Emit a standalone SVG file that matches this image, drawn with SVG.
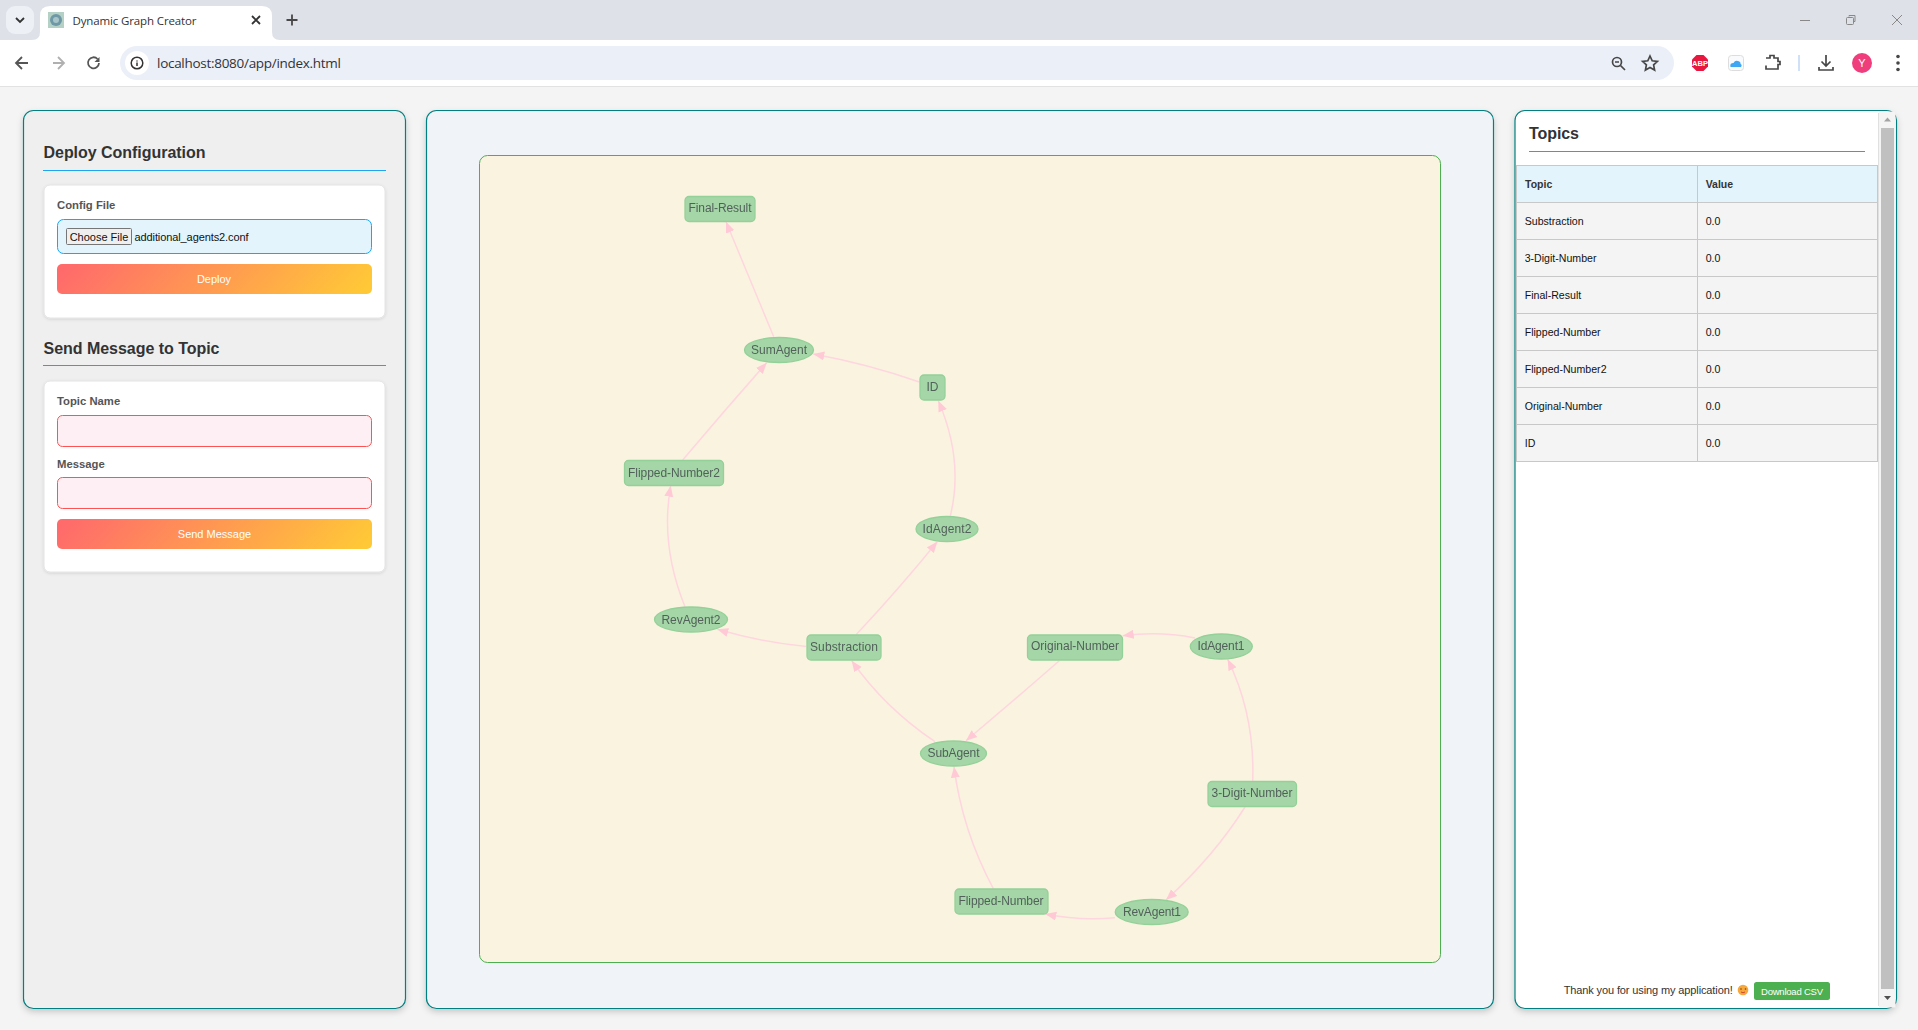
<svg xmlns="http://www.w3.org/2000/svg" width="1918" height="1030" viewBox="0 0 1918 1030">
<style>
text{font-family:"Liberation Sans",Arial,sans-serif}
.chrome{font-family:"Open Sans","Noto Sans",sans-serif}
.panel{stroke:#008080;stroke-width:1.2;filter:url(#sh)}
.h{font-size:16px;font-weight:bold;fill:#333}
.rule{stroke:#1ea5ef;stroke-width:1.1}
.card{fill:#fff;stroke:#e4e4e4;stroke-width:1;filter:url(#shc)}
.lab{font-size:11.3px;font-weight:bold;fill:#555}
.inp{fill:#fdeff4;stroke:#ff5252;stroke-width:1}
.btn{fill:url(#grad)}
.bt{font-size:11px;fill:#fff;text-anchor:middle}
.cell{fill:#f4f4f4;stroke:#c8c8c8;stroke-width:1}
.hc{fill:#e3f4fd;stroke:#c8c8c8;stroke-width:1}
.th{font-size:10.5px;font-weight:bold;fill:#333}
.td{font-size:10.6px;fill:#111}
.ns{fill:#a5d6a7;stroke:#94d198;stroke-width:1.3}
.nt{font-size:12px;fill:#52615a;text-anchor:middle}
.e{fill:none;stroke:#ffd6df;stroke-width:1.5;marker-end:url(#arr)}
.ic{fill:none;stroke:#474747;stroke-width:1.7}
</style>
<defs>
<linearGradient id="grad" x1="0" y1="0.5" x2="1" y2="0.5" gradientUnits="objectBoundingBox" gradientTransform="rotate(5 .5 .5)"><stop offset="0" stop-color="#ff6b6b"/><stop offset="1" stop-color="#ffc837"/></linearGradient>
<filter id="sh" x="-5%" y="-5%" width="110%" height="110%"><feDropShadow dx="0" dy="3" stdDeviation="3" flood-color="#000" flood-opacity="0.18"/></filter>
<filter id="shc" x="-5%" y="-5%" width="110%" height="110%"><feDropShadow dx="0" dy="1" stdDeviation="1.5" flood-color="#000" flood-opacity="0.12"/></filter>
<filter id="soft" x="-2%" y="-2%" width="104%" height="104%"><feGaussianBlur stdDeviation="0.35"/></filter>
<marker id="arr" markerUnits="userSpaceOnUse" markerWidth="12" markerHeight="10" refX="11" refY="5" orient="auto"><path d="M0 0.5L11 5L0 9.5Z" fill="#ffcad6"/></marker>
</defs>
<rect width="1918" height="1030" fill="#f4f4f4"/>

<g id="browser-chrome">
<rect width="1918" height="40" fill="#dee1e8"/>
<rect x="0" y="40" width="1918" height="46" fill="#fff"/>
<line x1="0" y1="86.500" x2="1918" y2="86.500" stroke="#e2e2e2"/>
<rect x="6" y="6" width="28" height="28" rx="9" fill="#edf0f5"/>
<path d="M16 18l4 4l4-4" fill="none" stroke="#333" stroke-width="1.8"/>
<path d="M32 40Q40 40 40 32V16Q40 6 50 6H262Q272 6 272 16V32Q272 40 280 40Z" fill="#fff"/>
<rect x="48" y="12" width="16" height="16" fill="#b5d0c4"/><circle cx="56" cy="20" r="6" fill="#6f98a6"/><circle cx="56" cy="20" r="3" fill="#a8c4c8"/>
<text class="chrome" x="72.500" y="24.500" font-size="11.500" fill="#333" textLength="124">Dynamic Graph Creator</text>
<path d="M252 16l8 8M260 16l-8 8" stroke="#333" stroke-width="1.8"/>
<path d="M292 14.500v11M286.500 20h11" stroke="#474747" stroke-width="1.8"/>
<path d="M1800 20.500h10" stroke="#888" stroke-width="1"/>
<rect x="1846.500" y="17.500" width="7" height="7" rx="1" fill="none" stroke="#888"/><path d="M1849 16.500V15.500h6v6h-1" fill="none" stroke="#888"/>
<path d="M1892 15l10 10M1902 15l-10 10" stroke="#888" stroke-width="1"/>
<path d="M28 63H17M22 57l-6 6l6 6" fill="none" stroke="#555" stroke-width="1.8"/>
<path d="M64 63H53M58 57l6 6l-6 6" fill="none" stroke="#b0b0b0" stroke-width="1.800"/>
<path d="M99 63a5.500 5.500 0 1 1-1.500-4" fill="none" stroke="#555" stroke-width="1.800"/><path d="M99.500 57v5h-5z" fill="#555"/>
<rect x="120" y="46" width="1554" height="34" rx="17" fill="#ebeff8"/>
<circle cx="137" cy="63" r="12" fill="#fff"/><circle cx="137" cy="63" r="5.800" fill="none" stroke="#333" stroke-width="1.500"/><path d="M137 60.500v1M137 62.500v3.500" stroke="#333" stroke-width="1.500"/>
<text class="chrome" x="157" y="68" font-size="13.500" fill="#333" textLength="184">localhost:8080/app/index.html</text>
<circle cx="1617" cy="62" r="4.500" class="ic"/><path d="M1620.500 65.500l4.500 4.500M1615 62h4" class="ic"/>
<path d="M1650 56l2.200 4.800l5.200.600l-3.800 3.500l1 5.100l-4.600-2.600l-4.600 2.600l1-5.100l-3.800-3.500l5.200-.600z" class="ic"/>
<path d="M1696.500 55h7l4.500 4.500v7l-4.500 4.500h-7l-4.500-4.500v-7z" fill="#e8173f"/>
<text x="1700" y="66" font-size="7.500" font-weight="bold" fill="#fff" text-anchor="middle">ABP</text>
<rect x="1728.500" y="55.500" width="15" height="15" rx="3" fill="#f8fafc" stroke="#ddd"/><path d="M1730.500 67q-1-4 3-4q1.500-3 4.500-2q3 1 2.500 3q2 1 .5 3z" fill="#3ea6f2"/>
<path d="M1766 58h4v-2.500h4v2.500h4v3.500h2v3h-2v4.500h-12v-3.500" class="ic"/>
<line x1="1799" y1="55" x2="1799" y2="71" stroke="#d0e0f8" stroke-width="2"/>
<path d="M1826 55v11M1821.500 61.500l4.500 4.500l4.500-4.500M1819 67v3h14v-3" class="ic"/>
<circle cx="1862" cy="63" r="10" fill="#f03e7c"/><text x="1862" y="67" font-size="11" fill="#fff" text-anchor="middle">Y</text>
<circle cx="1898" cy="56.500" r="1.800" fill="#474747"/><circle cx="1898" cy="63" r="1.800" fill="#474747"/><circle cx="1898" cy="69.500" r="1.800" fill="#474747"/>
</g>

<g id="deploy-panel">
<rect class="panel" x="23.500" y="110.500" width="382" height="898" rx="10" fill="#efefef"/>
<text class="h" x="43.500" y="158" textLength="162">Deploy Configuration</text>
<line class="rule" x1="43" y1="170.500" x2="386" y2="170.500"/>
<rect class="card" x="44" y="185" width="341" height="133" rx="6"/>
<text class="lab" x="57" y="209">Config File</text>
<rect x="57.500" y="219.500" width="314" height="34" rx="6" fill="#e3f4fd" stroke="#1ea5ef" stroke-width="1"/>
<rect x="66.500" y="228.500" width="65" height="16" rx="1" fill="#efefef" stroke="#767676"/>
<text x="99" y="241" font-size="11" fill="#111" text-anchor="middle">Choose File</text>
<text x="134.500" y="241" font-size="11" fill="#111" textLength="114">additional_agents2.conf</text>
<rect class="btn" x="57" y="264" width="315" height="30" rx="5"/>
<text class="bt" x="214" y="283">Deploy</text>
<text class="h" x="43.500" y="354" textLength="176">Send Message to Topic</text>
<line class="rule" x1="43" y1="365.500" x2="386" y2="365.500"/>
<rect class="card" x="44" y="381" width="341" height="191" rx="6"/>
<text class="lab" x="57" y="405">Topic Name</text>
<rect class="inp" x="57.500" y="415.500" width="314" height="31" rx="5"/>
<text class="lab" x="57" y="468">Message</text>
<rect class="inp" x="57.500" y="477.500" width="314" height="31" rx="5"/>
<rect class="btn" x="57" y="519" width="315" height="30" rx="5"/>
<text class="bt" x="214.500" y="538">Send Message</text>
</g>

<rect class="panel" id="graph-panel" x="426.500" y="110.500" width="1067" height="898" rx="10" fill="#f0f4f8"/>
<rect id="graph-canvas" x="479.500" y="155.500" width="961" height="807" rx="8" fill="#faf3e0" stroke="#4caf50"/>

<g id="connectors" filter="url(#soft)">
<path class="e" d="M773.700 336.700Q750 280 726 221.700"/>
<path class="e" d="M919.300 382Q868 364 813.300 354"/>
<path class="e" d="M682.700 460Q725 410 766.700 362.700"/>
<path class="e" d="M950.300 516Q964 460 938.300 400.700"/>
<path class="e" d="M856 634.700Q898 590 937.300 541.700"/>
<path class="e" d="M685 606.700Q660 545 670.700 485.700"/>
<path class="e" d="M806.300 646.500Q760 642 717.300 629.300"/>
<path class="e" d="M935 741.700Q885 708 851.700 660.700"/>
<path class="e" d="M1059.300 660.700Q1012 702 966 740.700"/>
<path class="e" d="M993.300 888.700Q962 830 954 766.700"/>
<path class="e" d="M1252.700 781.300Q1255 715 1227.700 659.300"/>
<path class="e" d="M1245 807Q1215 855 1166 900"/>
<path class="e" d="M1115 917.700Q1080 921 1045.300 914"/>
<path class="e" d="M1195 638Q1160 631 1122.700 635.700"/>
</g>

<g id="nodes" filter="url(#soft)">
<g id="final-result"><rect class="ns" x="685" y="196.500" width="70" height="25" rx="4"/><text class="nt" x="720" y="212" textLength="63">Final-Result</text></g>
<g id="sumagent"><ellipse class="ns" cx="779" cy="350" rx="34.500" ry="12.500"/><text class="nt" x="779" y="354" textLength="56">SumAgent</text></g>
<g id="id-topic"><rect class="ns" x="920" y="375" width="25" height="25" rx="4"/><text class="nt" x="932.500" y="391" textLength="12">ID</text></g>
<g id="flipped-number2"><rect class="ns" x="624.500" y="460.500" width="99" height="25" rx="4"/><text class="nt" x="674" y="476.500" textLength="92">Flipped-Number2</text></g>
<g id="idagent2"><ellipse class="ns" cx="947" cy="529" rx="31" ry="12.500"/><text class="nt" x="947" y="533" textLength="49">IdAgent2</text></g>
<g id="revagent2"><ellipse class="ns" cx="691" cy="619.500" rx="36.500" ry="12.500"/><text class="nt" x="691" y="623.500" textLength="59">RevAgent2</text></g>
<g id="substraction"><rect class="ns" x="807" y="635" width="74" height="25" rx="4"/><text class="nt" x="844" y="651" textLength="68">Substraction</text></g>
<g id="subagent"><ellipse class="ns" cx="953.500" cy="753.500" rx="33" ry="12.500"/><text class="nt" x="953.500" y="757" textLength="52">SubAgent</text></g>
<g id="original-number"><rect class="ns" x="1027.500" y="635" width="95" height="25" rx="4"/><text class="nt" x="1075" y="650" textLength="88">Original-Number</text></g>
<g id="idagent1"><ellipse class="ns" cx="1221.300" cy="646.500" rx="31" ry="12.500"/><text class="nt" x="1221" y="650" textLength="47">IdAgent1</text></g>
<g id="three-digit-number"><rect class="ns" x="1208" y="781.500" width="88.500" height="25" rx="4"/><text class="nt" x="1252" y="797" textLength="81">3-Digit-Number</text></g>
<g id="revagent1"><ellipse class="ns" cx="1151.700" cy="912" rx="36.500" ry="12.500"/><text class="nt" x="1152" y="916" textLength="58">RevAgent1</text></g>
<g id="flipped-number"><rect class="ns" x="955" y="889" width="93" height="25" rx="4"/><text class="nt" x="1001" y="905" textLength="85">Flipped-Number</text></g>
</g>

<g id="topics-panel">
<rect class="panel" x="1515" y="110.500" width="381.500" height="898" rx="10" fill="#fff"/>
<text class="h" x="1529" y="139" textLength="50">Topics</text>
<line class="rule" x1="1529" y1="151.500" x2="1865" y2="151.500"/>
<rect class="hc" x="1516.500" y="165.500" width="181" height="37"/><rect class="hc" x="1697.500" y="165.500" width="180" height="37"/>
<text class="th" x="1525" y="188">Topic</text><text class="th" x="1705.700" y="188">Value</text>
<rect class="cell" x="1516.500" y="202.500" width="181" height="37"/><rect class="cell" x="1697.500" y="202.500" width="180" height="37"/>
<text class="td" x="1524.700" y="225">Substraction</text><text class="td" x="1705.700" y="225">0.0</text>
<rect class="cell" x="1516.500" y="239.500" width="181" height="37"/><rect class="cell" x="1697.500" y="239.500" width="180" height="37"/>
<text class="td" x="1524.700" y="262">3-Digit-Number</text><text class="td" x="1705.700" y="262">0.0</text>
<rect class="cell" x="1516.500" y="276.500" width="181" height="37"/><rect class="cell" x="1697.500" y="276.500" width="180" height="37"/>
<text class="td" x="1524.700" y="299">Final-Result</text><text class="td" x="1705.700" y="299">0.0</text>
<rect class="cell" x="1516.500" y="313.500" width="181" height="37"/><rect class="cell" x="1697.500" y="313.500" width="180" height="37"/>
<text class="td" x="1524.700" y="336">Flipped-Number</text><text class="td" x="1705.700" y="336">0.0</text>
<rect class="cell" x="1516.500" y="350.500" width="181" height="37"/><rect class="cell" x="1697.500" y="350.500" width="180" height="37"/>
<text class="td" x="1524.700" y="373">Flipped-Number2</text><text class="td" x="1705.700" y="373">0.0</text>
<rect class="cell" x="1516.500" y="387.500" width="181" height="37"/><rect class="cell" x="1697.500" y="387.500" width="180" height="37"/>
<text class="td" x="1524.700" y="410">Original-Number</text><text class="td" x="1705.700" y="410">0.0</text>
<rect class="cell" x="1516.500" y="424.500" width="181" height="37"/><rect class="cell" x="1697.500" y="424.500" width="180" height="37"/>
<text class="td" x="1524.700" y="447">ID</text><text class="td" x="1705.700" y="447">0.0</text>
<rect x="1879" y="111.500" width="16.500" height="896" fill="#f4f4f4"/>
<line x1="1878.500" y1="113" x2="1878.500" y2="1006" stroke="#e0e0e0"/>
<rect x="1881" y="128" width="13" height="861" fill="#c0c0c0"/>
<path d="M1887.500 117.500l3.500 4h-7z" fill="#a3a3a3"/><path d="M1884 996h7l-3.500 4z" fill="#505050"/>
<text x="1563.700" y="994" font-size="11" fill="#333" textLength="169">Thank you for using my application!</text>
<circle cx="1743" cy="990" r="5.300" fill="#f6a83c"/><circle cx="1741" cy="989" r=".8" fill="#804000"/><circle cx="1745.500" cy="989" r=".8" fill="#804000"/><path d="M1741 992q2 1.500 4 0" fill="none" stroke="#c03030" stroke-width=".8"/>
<rect x="1754" y="982" width="76" height="18" rx="2.500" fill="#4caf50"/>
<text x="1792" y="994.500" font-size="9.500" fill="#fff" text-anchor="middle" textLength="62">Download CSV</text>
</g>
</svg>
